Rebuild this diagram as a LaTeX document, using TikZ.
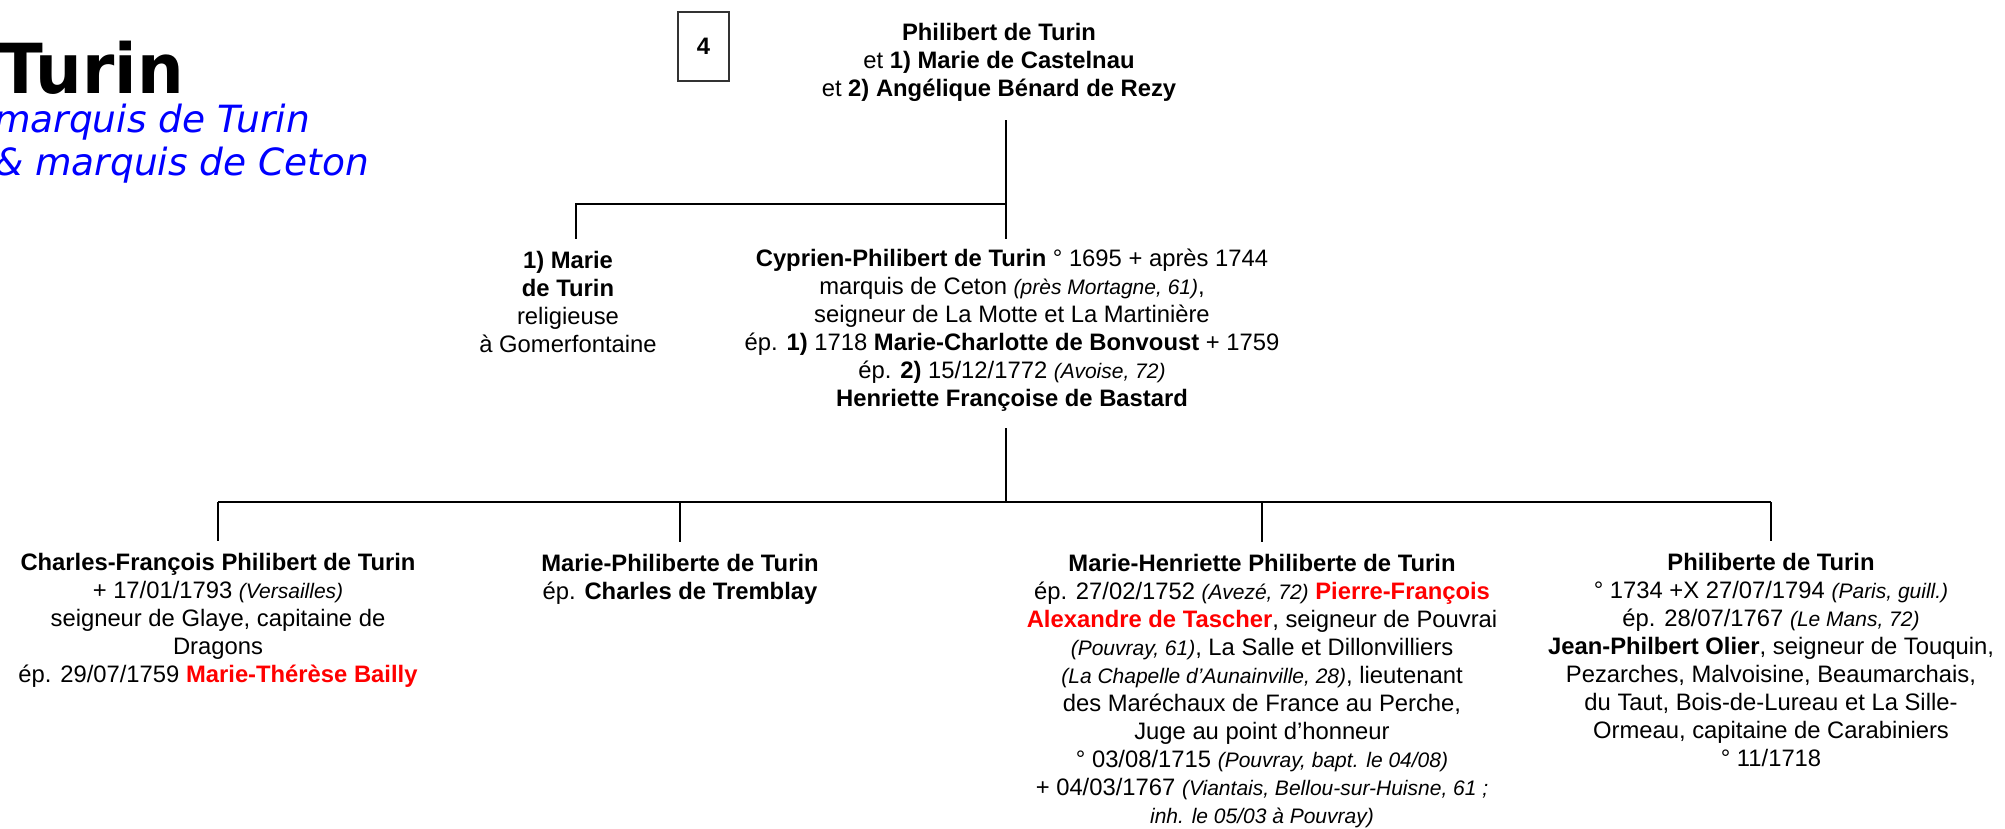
\documentclass[tikz,border=0pt]{standalone}
\usepackage{fontspec}
\setmainfont{Liberation Sans}
\newfontfamily\titlefont[FakeStretch=0.95]{DejaVu Sans}
\newfontfamily\subtitlefont{DejaVu Sans}
\usetikzlibrary{calc}
\tikzset{famline/.style = {line width=2.6pt},
         person/.style = {anchor=north, align=center, inner sep=0pt,
                          font=\fontsize{23.8}{28}\selectfont}}
\newcommand{\lieu}[1]{{\fontsize{21}{28}\selectfont\itshape #1}}
\newcommand{\conj}[1]{{\color{red}\bfseries #1}}

\begin{document}
\begin{tikzpicture}[x=1pt, y=-1pt]
    \useasboundingbox (0,0) rectangle (2005,828);

    % heading
    \node[anchor=base west, inner sep=0pt] (title) at (-2,93)
        {\titlefont\fontsize{69}{69}\selectfont\bfseries Turin};
    \node[anchor=north west, inner sep=0pt, align=left, text=blue,
          font=\subtitlefont\fontsize{37.5}{43}\selectfont\itshape] (subtitle) at (-6,104)
        {marquis de Turin\\
         \& marquis de Ceton};
    \node[draw=black!80, line width=1.2pt, minimum width=51pt, minimum height=69pt,
          font=\fontsize{23.8}{28}\selectfont\bfseries] (num) at (703.5,46.5) {4};

    % generations
    \node[person] (par) at (999,22.6) {%
        \textbf{Philibert de Turin}\\
        et \textbf{1) Marie de Castelnau}\\
        et \textbf{2) Angélique Bénard de Rezy}};

    \node[person] (nun) at (568,250.6) {%
        \textbf{1) Marie}\\
        \textbf{de Turin}\\
        religieuse\\
        à Gomerfontaine};

    \node[person] (cyp) at (1012,248.6) {%
        \textbf{Cyprien-Philibert de Turin} ° 1695 + après 1744\\
        marquis de Ceton \lieu{(près Mortagne, 61)},\\
        seigneur de La Motte et La Martinière\\
        ép. \textbf{1)} 1718 \textbf{Marie-Charlotte de Bonvoust} + 1759\\
        ép. \textbf{2)} 15/12/1772 \lieu{(Avoise, 72)}\\
        \textbf{Henriette Françoise de Bastard}};

    \node[person] (c1) at (218,552.6) {%
        \textbf{Charles-François Philibert de Turin}\\
        + 17/01/1793 \lieu{(Versailles)}\\
        seigneur de Glaye, capitaine de\\
        Dragons\\
        ép. 29/07/1759 \conj{Marie-Thérèse Bailly}};

    \node[person] (c2) at (680,553.6) {%
        \textbf{Marie-Philiberte de Turin}\\
        ép. \textbf{Charles de Tremblay}};

    \node[person] (c3) at (1262,553.6) {%
        \textbf{Marie-Henriette Philiberte de Turin}\\
        ép. 27/02/1752 \lieu{(Avezé, 72)} \conj{Pierre-François}\\
        \conj{Alexandre de Tascher}, seigneur de Pouvrai\\
        \lieu{(Pouvray, 61)}, La Salle et Dillonvilliers\\
        \lieu{(La Chapelle d’Aunainville, 28)}, lieutenant\\
        des Maréchaux de France au Perche,\\
        Juge au point d’honneur\\
        ° 03/08/1715 \lieu{(Pouvray, bapt. le 04/08)}\\
        + 04/03/1767 \lieu{(Viantais, Bellou-sur-Huisne, 61 ;}\\
        \lieu{inh. le 05/03 à Pouvray)}};

    \node[person] (c4) at (1771,552.6) {%
        \textbf{Philiberte de Turin}\\
        ° 1734 +X 27/07/1794 \lieu{(Paris, guill.)}\\
        ép. 28/07/1767 \lieu{(Le Mans, 72)}\\
        \textbf{Jean-Philbert Olier}, seigneur de Touquin,\\
        Pezarches, Malvoisine, Beaumarchais,\\
        du Taut, Bois-de-Lureau et La Sille-\\
        Ormeau, capitaine de Carabiniers\\
        ° 11/1718};

    % tree lines
    \coordinate (par-out) at (1006,120);
    \coordinate (fork1)   at (1006,204);
    \coordinate (cyp-in)  at (1006,239);
    \coordinate (nun-in)  at (576,239);
    \coordinate (cyp-out) at (1006,428);
    \coordinate (fork2)   at (1006,502);

    \draw[famline] (par-out) -- (cyp-in);
    \draw[famline] (fork1) -| (nun-in);
    \draw[famline] (cyp-out) -- (fork2);
    \draw[famline] (c1.north |- fork2) -- (c4.north |- fork2);
    \foreach \Child in {c1, c2, c3, c4}
        \draw[famline] (\Child.north |- fork2) -- ([yshift=12pt]\Child.north);
\end{tikzpicture}
\end{document}
